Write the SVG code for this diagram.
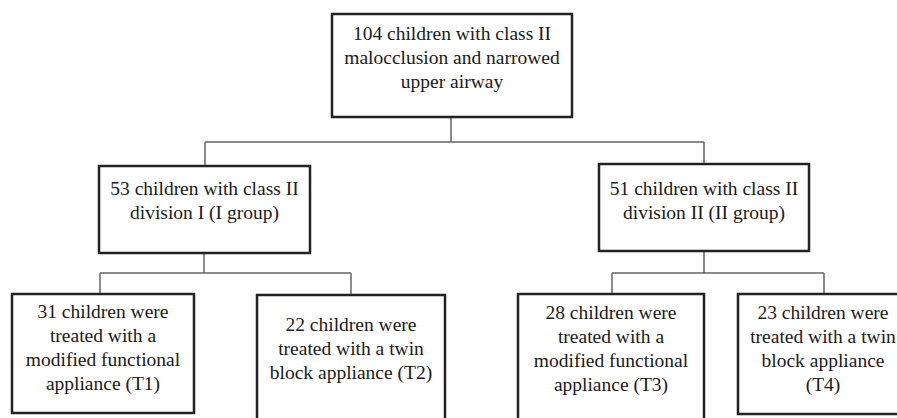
<svg xmlns="http://www.w3.org/2000/svg" width="897" height="418" viewBox="0 0 897 418">
<style>
.box{fill:#fff;stroke:#222;stroke-width:2.5}
.lbl{font-size:19.5px;fill:#1a1a1a;text-anchor:middle}
.con{fill:none;stroke:#666;stroke-width:1.5}
</style>
<rect width="897" height="418" fill="#fff"/>
<g id="connectors">
<path class="con" d="M451 117V142M205 142H704M205 142V166M704 142V164"/>
<path class="con" d="M204 253V273M100 273H351M100 273V294M351 273V295"/>
<path class="con" d="M704 251V273M612 273H824M612 273V294M824 273V294"/>
</g>
<g font-family="Liberation Serif, DejaVu Serif, serif">
<g id="root">
<rect class="box" x="332" y="14" width="240" height="103"/>
<text class="lbl"><tspan x="452" y="40">104 children with class II</tspan><tspan x="452" y="64">malocclusion and narrowed</tspan><tspan x="452" y="88">upper airway</tspan></text>
</g>
<g id="group1">
<rect class="box" x="99" y="166" width="211" height="87"/>
<text class="lbl"><tspan x="204.5" y="195">53 children with class II</tspan><tspan x="204.5" y="219">division I (I group)</tspan></text>
</g>
<g id="group2">
<rect class="box" x="599" y="164" width="210" height="87"/>
<text class="lbl"><tspan x="704" y="195">51 children with class II</tspan><tspan x="704" y="219">division II (II group)</tspan></text>
</g>
<g id="t1">
<rect class="box" x="12" y="294" width="182" height="119"/>
<text class="lbl"><tspan x="103" y="318">31 children were</tspan><tspan x="103" y="342">treated with a</tspan><tspan x="103" y="366">modified functional</tspan><tspan x="103" y="390">appliance (T1)</tspan></text>
</g>
<g id="t2">
<rect class="box" x="257" y="295" width="188" height="126"/>
<text class="lbl"><tspan x="351" y="331">22 children were</tspan><tspan x="351" y="355">treated with a twin</tspan><tspan x="351" y="379">block appliance (T2)</tspan></text>
</g>
<g id="t3">
<rect class="box" x="518" y="294" width="186" height="127"/>
<text class="lbl"><tspan x="611" y="319">28 children were</tspan><tspan x="611" y="343">treated with a</tspan><tspan x="611" y="367">modified functional</tspan><tspan x="611" y="391">appliance (T3)</tspan></text>
</g>
<g id="t4">
<rect class="box" x="738" y="294" width="174" height="120"/>
<text class="lbl"><tspan x="823" y="319">23 children were</tspan><tspan x="823" y="343">treated with a twin</tspan><tspan x="823" y="367">block appliance</tspan><tspan x="823" y="391">(T4)</tspan></text>
</g>
</g>
</svg>
